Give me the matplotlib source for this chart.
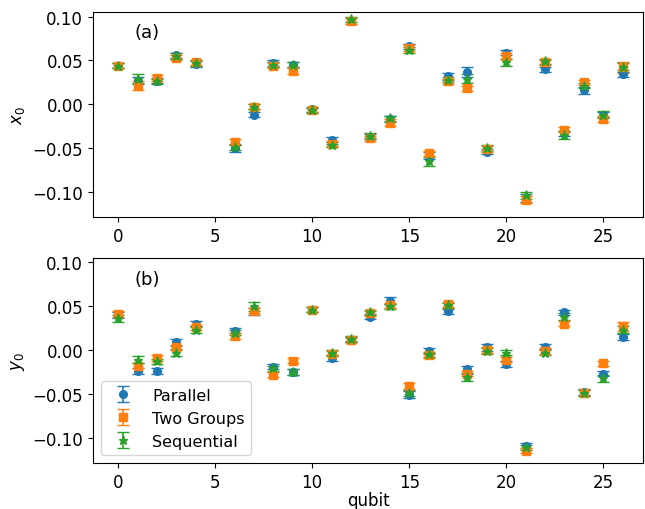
from matplotlib import pyplot as plt

qubits = [0, 1, 2, 3, 4, 6, 7, 8, 9, 10, 11, 12, 13, 14, 15, 16, 17, 18, 19, 20, 21, 22, 23, 24, 25, 26]

# x0 estimates
x0_par = [0.044, 0.027, 0.027, 0.056, 0.046, -0.050, -0.012, 0.047, 0.045, -0.006, -0.041, 0.095, -0.037, -0.017,
          0.066, -0.059, 0.032, 0.037, -0.054, 0.059, -0.107, 0.040, -0.033, 0.016, -0.012, 0.034]
x0_two = [0.044, 0.021, 0.030, 0.053, 0.048, -0.043, -0.003, 0.044, 0.038, -0.007, -0.045, 0.095, -0.039, -0.021,
          0.064, -0.056, 0.026, 0.018, -0.051, 0.055, -0.109, 0.048, -0.029, 0.025, -0.017, 0.042]
x0_seq = [0.044, 0.029, 0.026, 0.055, 0.047, -0.049, -0.003, 0.045, 0.045, -0.007, -0.046, 0.097, -0.036, -0.016,
          0.062, -0.065, 0.028, 0.029, -0.050, 0.048, -0.104, 0.049, -0.035, 0.021, -0.012, 0.043]
x0_par_err = [0.003, 0.004, 0.003, 0.003, 0.003, 0.005, 0.003, 0.003, 0.003, 0.003, 0.004, 0.003, 0.003, 0.003,
              0.003, 0.004, 0.004, 0.006, 0.003, 0.003, 0.004, 0.003, 0.003, 0.004, 0.003, 0.003]
x0_two_err = [0.003, 0.005, 0.003, 0.003, 0.003, 0.003, 0.003, 0.003, 0.003, 0.003, 0.003, 0.003, 0.003, 0.004,
              0.003, 0.003, 0.003, 0.003, 0.003, 0.003, 0.004, 0.003, 0.003, 0.003, 0.003, 0.006]
x0_seq_err = [0.003, 0.005, 0.003, 0.003, 0.003, 0.003, 0.003, 0.003, 0.003, 0.003, 0.003, 0.003, 0.003, 0.003,
              0.003, 0.005, 0.003, 0.005, 0.003, 0.004, 0.004, 0.003, 0.005, 0.003, 0.004, 0.004]

# y0 estimates
y0_par = [0.040, -0.024, -0.024, 0.009, 0.030, 0.022, 0.044, -0.019, -0.025, 0.046, -0.009, 0.012, 0.038, 0.056,
          -0.051, -0.001, 0.044, -0.022, 0.003, -0.016, -0.109, 0.004, 0.043, -0.048, -0.027, 0.015]
y0_two = [0.041, -0.018, -0.009, 0.003, 0.026, 0.016, 0.045, -0.028, -0.012, 0.046, -0.004, 0.011, 0.042, 0.051,
          -0.041, -0.006, 0.052, -0.027, 0.000, -0.011, -0.115, -0.001, 0.030, -0.049, -0.015, 0.027]
y0_seq = [0.036, -0.011, -0.013, -0.003, 0.023, 0.020, 0.050, -0.021, -0.025, 0.046, -0.003, 0.013, 0.043, 0.050,
          -0.049, -0.005, 0.051, -0.031, -0.001, -0.003, -0.111, -0.003, 0.038, -0.049, -0.032, 0.023]
y0_par_err = [0.003, 0.003, 0.003, 0.004, 0.003, 0.003, 0.004, 0.003, 0.003, 0.003, 0.003, 0.003, 0.003, 0.004,
              0.004, 0.003, 0.003, 0.004, 0.004, 0.003, 0.003, 0.003, 0.003, 0.003, 0.003, 0.003]
y0_two_err = [0.003, 0.003, 0.003, 0.003, 0.003, 0.003, 0.003, 0.003, 0.003, 0.003, 0.003, 0.003, 0.003, 0.003,
              0.003, 0.003, 0.003, 0.003, 0.003, 0.003, 0.003, 0.003, 0.003, 0.003, 0.003, 0.005]
y0_seq_err = [0.004, 0.004, 0.003, 0.004, 0.003, 0.003, 0.005, 0.003, 0.003, 0.003, 0.003, 0.003, 0.003, 0.003,
              0.003, 0.003, 0.003, 0.004, 0.003, 0.003, 0.003, 0.003, 0.004, 0.003, 0.004, 0.004]

plt.rcParams['font.size'] = 12

fig = plt.figure(figsize=(6.45, 5.1), dpi=100)
ax1 = fig.add_axes([0.144, 0.572, 0.853, 0.403])
ax2 = fig.add_axes([0.144, 0.090, 0.853, 0.403])


def draw(ax, par, two, seq, par_err, two_err, seq_err):
    opts = dict(linestyle='none', capsize=4.5, elinewidth=1.2)
    ax.errorbar(qubits, par, yerr=par_err, fmt='o', markersize=5.5, color='tab:blue', label='Parallel', **opts)
    ax.errorbar(qubits, two, yerr=two_err, fmt='s', markersize=5.5, color='tab:orange', label='Two Groups', **opts)
    ax.errorbar(qubits, seq, yerr=seq_err, fmt='*', markersize=6.5, color='tab:green', label='Sequential', **opts)
    ax.set_xlim(-1.3, 27.05)
    ax.set_ylim(-0.129, 0.1055)
    ax.set_yticks([-0.10, -0.05, 0.00, 0.05, 0.10])
    ax.set_xticks([0, 5, 10, 15, 20, 25])


draw(ax1, x0_par, x0_two, x0_seq, x0_par_err, x0_two_err, x0_seq_err)
draw(ax2, y0_par, y0_two, y0_seq, y0_par_err, y0_two_err, y0_seq_err)

ax1.set_ylabel('$x_0$')
ax2.set_ylabel('$y_0$')
ax2.set_xlabel('qubit', labelpad=0)
ax1.text(0.076, 0.9, '(a)', transform=ax1.transAxes, ha='left', va='center', fontsize=13)
ax2.text(0.076, 0.898, '(b)', transform=ax2.transAxes, ha='left', va='center', fontsize=13)
ax2.legend(loc='lower left', fontsize=11.5)

plt.savefig('out.png')
